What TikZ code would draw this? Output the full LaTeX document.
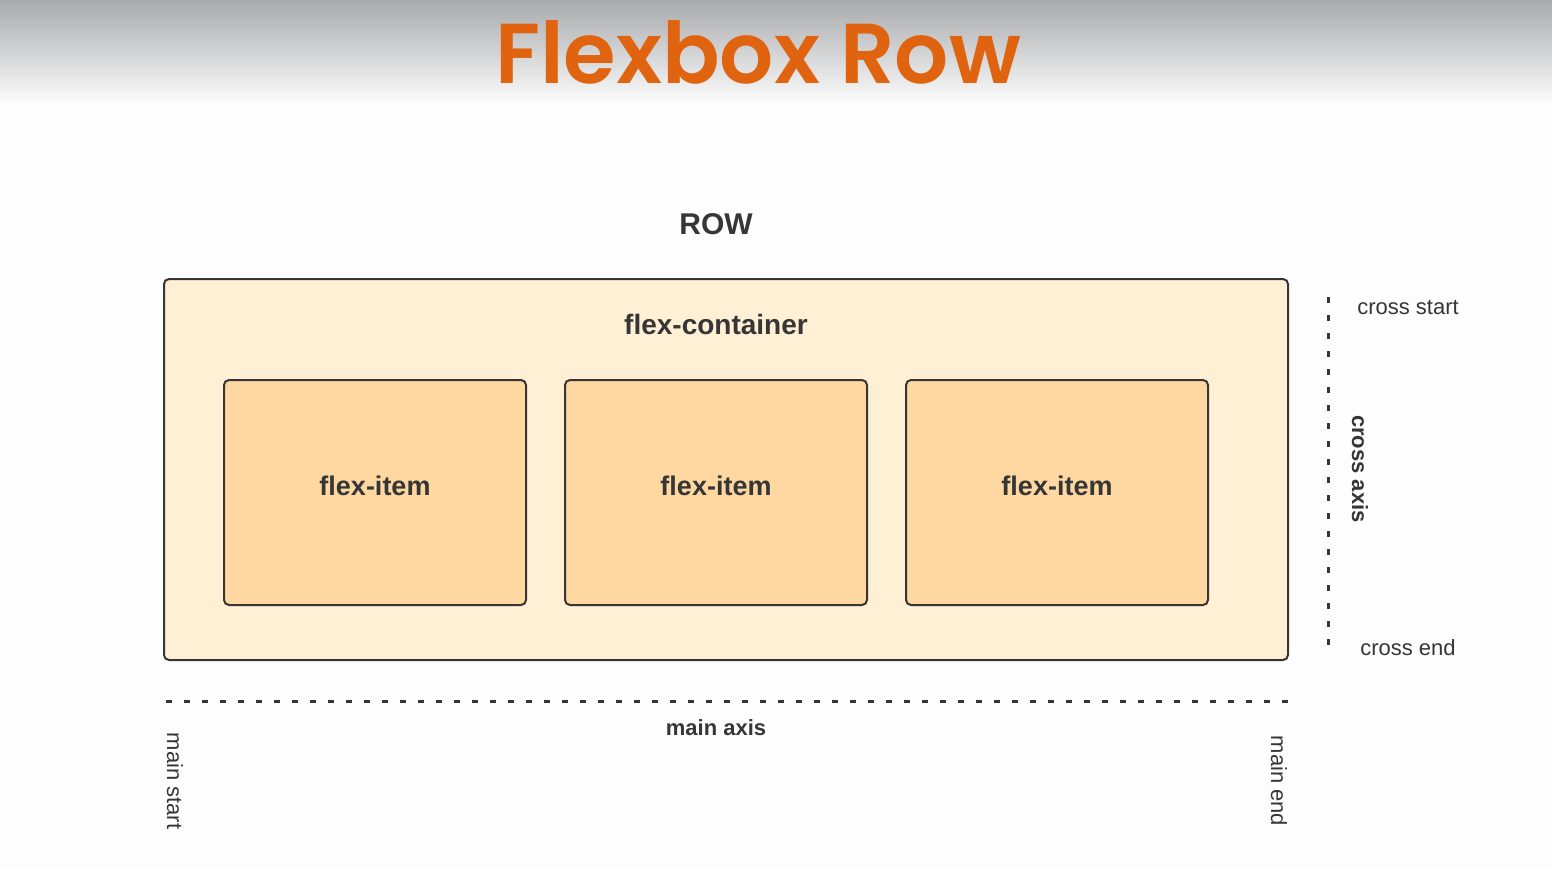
\documentclass[tikz,border=0pt]{standalone}
\usepackage{fontspec}
\setmainfont{Liberation Sans}
\newfontfamily\titlefont{Poppins SemiBold}
\usetikzlibrary{positioning}
\definecolor{pagebg}{HTML}{FDFDFD}
\definecolor{topgray}{HTML}{A9AAAC}
\definecolor{ink}{HTML}{363636}
\definecolor{boxfill}{HTML}{FFEFD4}
\definecolor{itemfill}{HTML}{FED7A1}
\definecolor{titleorange}{HTML}{E0630F}
\tikzset{
  titletxt/.style  = {font=\titlefont\fontsize{85}{90}\selectfont, text=titleorange, inner sep=0pt},
  container/.style = {draw=ink, fill=boxfill, rounded corners=5pt, line width=2pt, minimum width=1124, minimum height=381, inner sep=0pt},
  item/.style      = {draw=ink, fill=itemfill, rounded corners=5pt, line width=2pt, minimum width=302, minimum height=225, inner sep=0pt},
  itemlbl/.style   = {font=\fontsize{27}{32}\selectfont\bfseries, text=ink, inner sep=0pt},
  hdr/.style       = {font=\fontsize{30}{34}\selectfont\bfseries, text=ink, inner sep=0pt},
  boxlbl/.style    = {font=\fontsize{28}{32}\selectfont\bfseries, text=ink, inner sep=0pt},
  axislbl/.style   = {font=\fontsize{22}{26}\selectfont\bfseries, text=ink, inner sep=0pt},
  endlbl/.style    = {font=\fontsize{22}{26}\selectfont, text=ink, inner sep=0pt},
  axisline/.style  = {draw=ink, line width=3pt, dash pattern=on 5.5pt off 12.5pt},
}
\begin{document}
\begin{tikzpicture}[x=1pt,y=-1pt]
  \fill[pagebg] (0,0) rectangle (1552,868);
  \shade[top color=topgray, bottom color=pagebg] (0,0) rectangle (1552,105);
  \useasboundingbox (0,0) rectangle (1552,868);

  % title
  \node[titletxt] (title) at (758,52) {Flexbox Row};
  \node[hdr] (row) at (716,224) {ROW};

  % container and items
  \node[container] (box) at (726,469.5) {};
  \node[boxlbl] (boxname) at (716,324) {flex-container};
  \foreach \n/\x in {a/375, b/716, c/1057} {
    \node[item] (item\n) at (\x,492.5) {};
    \node[itemlbl] (itemlbl\n) at (\x,486) {flex-item};
  }

  % cross axis
  \coordinate (cstart) at (1328,297);
  \coordinate (cend) at (1328,644.5);
  \draw[axisline] (cstart) -- (cend);
  \node[endlbl] (crossstart) at (1408,307) {cross start};
  \node[endlbl] (crossend) at (1408,648) {cross end};
  \node[axislbl, rotate=-90] (crossaxis) at (1360,469) {cross axis};

  % main axis
  \coordinate (mstart) at (166,701);
  \coordinate (mend) at (1287.5,701);
  \draw[axisline] (mstart) -- (mend);
  \node[axislbl] (mainaxis) at (716,728) {main axis};
  \node[endlbl, rotate=-90] (mainstart) at (175,781) {main start};
  \node[endlbl, rotate=-90] (mainend) at (1279,781) {main end};
\end{tikzpicture}
\end{document}
